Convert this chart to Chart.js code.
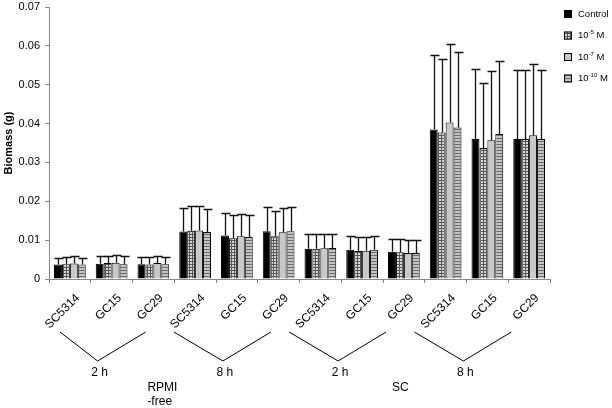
<!DOCTYPE html>
<html>
<head>
<meta charset="utf-8">
<script src="https://cdn.jsdelivr.net/npm/chart.js@4.4.1/dist/chart.umd.min.js"></script>
<style>
  body { margin: 0; background: #fff; }
  #wrap { width: 612px; height: 408px; position: relative; }
</style>
</head>
<body>
<div id="wrap"><canvas id="chart"></canvas></div>
<script>
// strains, repeated for every (medium, time) group
const strains = ['SC5314', 'GC15', 'GC29', 'SC5314', 'GC15', 'GC29',
                 'SC5314', 'GC15', 'GC29', 'SC5314', 'GC15', 'GC29']
const timeLabels = ['2 h', '8 h', '2 h', '8 h']
const mediumLabels = [['RPMI', '-free'], ['SC']]

const seriesNames = ['Control', '10|-5| M', '10|-7| M', '10|-10| M']

// mean biomass (g)
const control  = [0.0037, 0.0039, 0.0038, 0.0122, 0.0112, 0.0123, 0.0078, 0.0075, 0.0070, 0.0385, 0.0360, 0.0360]
const conc5    = [0.0038, 0.0041, 0.0037, 0.0124, 0.0105, 0.0110, 0.0078, 0.0072, 0.0069, 0.0377, 0.0337, 0.0360]
const conc7    = [0.0040, 0.0042, 0.0041, 0.0125, 0.0110, 0.0120, 0.0079, 0.0073, 0.0067, 0.0403, 0.0357, 0.0370]
const conc10   = [0.0037, 0.0038, 0.0038, 0.0121, 0.0108, 0.0123, 0.0080, 0.0075, 0.0067, 0.0390, 0.0373, 0.0360]

// standard deviation (upper error bar length)
const controlErr = [0.0018, 0.0019, 0.0019, 0.0061, 0.0058, 0.0062, 0.0037, 0.0035, 0.0034, 0.0192, 0.0180, 0.0178]
const conc5Err   = [0.0019, 0.0019, 0.0020, 0.0063, 0.0060, 0.0065, 0.0037, 0.0035, 0.0035, 0.0188, 0.0168, 0.0178]
const conc7Err   = [0.0020, 0.0021, 0.0019, 0.0063, 0.0058, 0.0062, 0.0036, 0.0036, 0.0033, 0.0202, 0.0178, 0.0183]
const conc10Err  = [0.0018, 0.0020, 0.0019, 0.0059, 0.0057, 0.0062, 0.0037, 0.0035, 0.0033, 0.0195, 0.0187, 0.0178]

function makePattern(kind){
    let c = document.createElement('canvas')
    c.width = 3; c.height = 3
    let p = c.getContext('2d')
    if(kind == 'hatch'){
        p.fillStyle = '#d8d8d8'
        p.fillRect(0, 0, 3, 3)
        p.fillStyle = '#555'
        p.fillRect(0, 0, 3, 1)
        p.fillRect(0, 0, 1, 3)
    } else {
        p.fillStyle = '#c4c4c4'
        p.fillRect(0, 0, 3, 3)
        p.fillStyle = '#6a6a6a'
        p.fillRect(0, 0, 3, 1)
    }
    return p.createPattern(c, 'repeat')
}

const fills = ['#000000', makePattern('hatch'), '#c8c8c8', makePattern('lines')]
const values = [control, conc5, conc7, conc10]
const errors = [controlErr, conc5Err, conc7Err, conc10Err]

const datasets = values.map((v, i) => ({
    label: seriesNames[i].replace(/\|/g, ''),
    data: v,
    err: errors[i],
    backgroundColor: fills[i],
    borderColor: '#000',
    borderWidth: 1,
    categoryPercentage: 0.76,
    barPercentage: 1
}))

const errorBars = {
    id: 'errorBars',
    afterDatasetsDraw(chart){
        const ctx = chart.ctx
        const y = chart.scales.y
        ctx.save()
        ctx.strokeStyle = '#111'
        ctx.lineWidth = 1.3
        chart.data.datasets.forEach((ds, di) => {
            chart.getDatasetMeta(di).data.forEach((bar, i) => {
                let top = Math.round(y.getPixelForValue(ds.data[i] + ds.err[i])) + 0.5
                let x = Math.round(bar.x) + 0.5
                ctx.beginPath()
                ctx.moveTo(x, bar.y)
                ctx.lineTo(x, top)
                ctx.moveTo(x - 4, top)
                ctx.lineTo(x + 5, top)
                ctx.stroke()
            })
        })
        ctx.restore()
    }
}

const sideLegend = {
    id: 'sideLegend',
    afterDraw(chart){
        const ctx = chart.ctx
        ctx.save()
        chart.data.datasets.forEach((ds, i) => {
            let yc = 14 + i * 21.5
            ctx.fillStyle = ds.backgroundColor
            ctx.fillRect(564, yc - 4, 8, 8)
            ctx.strokeStyle = '#000'
            ctx.lineWidth = 1
            ctx.strokeRect(564.5, yc - 3.5, 7, 7)
            ctx.fillStyle = '#000'
            ctx.textBaseline = 'middle'
            ctx.textAlign = 'left'
            let parts = seriesNames[i].split('|')
            let x = 578
            ctx.font = '9.5px "Liberation Sans", Arial, sans-serif'
            ctx.fillText(parts[0], x, yc)
            x += ctx.measureText(parts[0]).width
            if(parts.length > 1){
                ctx.font = '6px "Liberation Sans", Arial, sans-serif'
                ctx.fillText(parts[1], x, yc - 3)
                x += ctx.measureText(parts[1]).width
                ctx.font = '9.5px "Liberation Sans", Arial, sans-serif'
                ctx.fillText(parts[2], x, yc)
            }
        })
        ctx.restore()
    }
}

const groupLabels = {
    id: 'groupLabels',
    afterDraw(chart){
        const ctx = chart.ctx
        const xs = chart.scales.x
        ctx.save()
        ctx.strokeStyle = '#000'
        ctx.lineWidth = 1
        ctx.fillStyle = '#000'
        ctx.font = '12px "Liberation Sans", Arial, sans-serif'
        ctx.textAlign = 'center'
        ctx.textBaseline = 'middle'
        timeLabels.forEach((t, g) => {
            let mid = xs.getPixelForValue(g * 3 + 1) - (g < 2 ? 14 : 24)
            let left = Math.max(mid - 49, xs.left + 11)
            ctx.beginPath()
            ctx.moveTo(left, 332)
            ctx.lineTo(mid, 361)
            ctx.lineTo(mid + 48, 332)
            ctx.stroke()
            ctx.fillText(t, mid + 2, 373)
        })
        ctx.textAlign = 'left'
        mediumLabels.forEach((m, k) => {
            let x = xs.getPixelForValue(k * 6 + 2) - 6 - k * 6
            m.forEach((line, j) => ctx.fillText(line, x, 388 + j * 14))
        })
        ctx.restore()
    }
}

new Chart(document.getElementById('chart').getContext('2d'), {
    type: 'bar',
    data: { labels: strains, datasets: datasets },
    options: {
        responsive: true,
        maintainAspectRatio: false,
        animation: false,
        layout: { padding: { top: 7, right: 62, left: 0, bottom: 0 } },
        plugins: { legend: { display: false }, tooltip: { enabled: false } },
        scales: {
            x: {
                grid: { display: true, drawOnChartArea: false, offset: true, tickLength: 4, color: '#888' },
                border: { color: '#888' },
                ticks: {
                    maxRotation: 45, minRotation: 45, padding: 8, labelOffset: 8, color: '#000',
                    font: { family: '"Liberation Sans", Arial, sans-serif', size: 12 }
                },
                afterFit(scale){
                    scale.height = 129
                    scale.paddingLeft = 0
                    scale.paddingRight = 0
                }
            },
            y: {
                min: 0, max: 0.07,
                grid: { display: true, drawOnChartArea: false, tickLength: 4, color: '#888' },
                border: { color: '#888' },
                ticks: {
                    stepSize: 0.01, padding: 5, color: '#000',
                    font: { family: '"Liberation Sans", Arial, sans-serif', size: 11 }
                },
                title: {
                    display: true, text: 'Biomass (g)', color: '#000', padding: { top: 2, bottom: 0 },
                    font: { family: '"Liberation Sans", Arial, sans-serif', size: 11, weight: 'bold' }
                },
                afterFit(scale){
                    scale.width = 49
                    scale.paddingTop = 0
                    scale.paddingBottom = 0
                }
            }
        }
    },
    plugins: [errorBars, sideLegend, groupLabels]
})
</script>
</body>
</html>
